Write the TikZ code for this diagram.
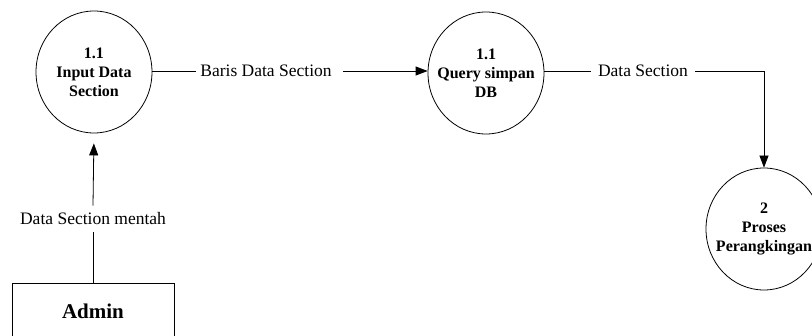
\documentclass[tikz,border=0pt]{standalone}
\usepackage{fontspec}
\setmainfont{Liberation Serif}
\usetikzlibrary{arrows.meta,shapes.geometric}

\tikzset{
  process/.style={draw, ellipse, line width=0.8pt, minimum width=116pt,
    minimum height=122pt, inner sep=-20pt, align=center,
    font=\bfseries\fontsize{16}{19}\selectfont},
  entity/.style={draw, rectangle, line width=0.8pt, minimum width=162pt,
    minimum height=56pt, inner sep=0pt, font=\bfseries\fontsize{21}{25}\selectfont},
  flowlabel/.style={inner xsep=5pt, inner ysep=2pt, font=\fontsize{17.5}{20}\selectfont},
  flow/.style={line width=0.8pt},
  flowarrow/.style={line width=0.8pt, -{Triangle[length=12pt,width=9pt]}}
}

\begin{document}
\begin{tikzpicture}[x=1pt, y=-1pt]
  \useasboundingbox (0,0) rectangle (812,336);
  \clip (0,0) rectangle (812,336);

  % processes
  \node[process] (input) at (94,72) {1.1\\Input Data\\Section};
  \node[process] (query) at (486,73) {1.1\\Query simpan\\DB};
  \node[process] (rank) at (764,229) {2\\Proses\\Perangkingan};

  % external entity
  \node[entity] (admin) at (93,311) {Admin};

  % flow labels
  \node[flowlabel, inner xsep=4pt] (lbaris) at (266,71) {Baris Data Section};
  \node[flowlabel, inner xsep=7pt] (ldata) at (643,71) {Data Section};
  \node[flowlabel, inner ysep=7pt] (lmentah) at (93,219) {Data Section mentah};
  \coordinate (corner) at (764,71);

  % data flows
  \draw[flow] (input.east |- lbaris) -- (lbaris.west);
  \draw[flowarrow, shorten <=7pt] (lbaris.east) -- (query.west |- lbaris);

  \draw[flow] (query.east |- ldata) -- (ldata.west);
  \draw[flowarrow] (ldata.east) -- (corner) -- (rank.north);

  \draw[flow] (admin.north) -- (lmentah.south);
  \draw[flowarrow, shorten >=10pt] (lmentah.north) -- (input.south);
\end{tikzpicture}
\end{document}
